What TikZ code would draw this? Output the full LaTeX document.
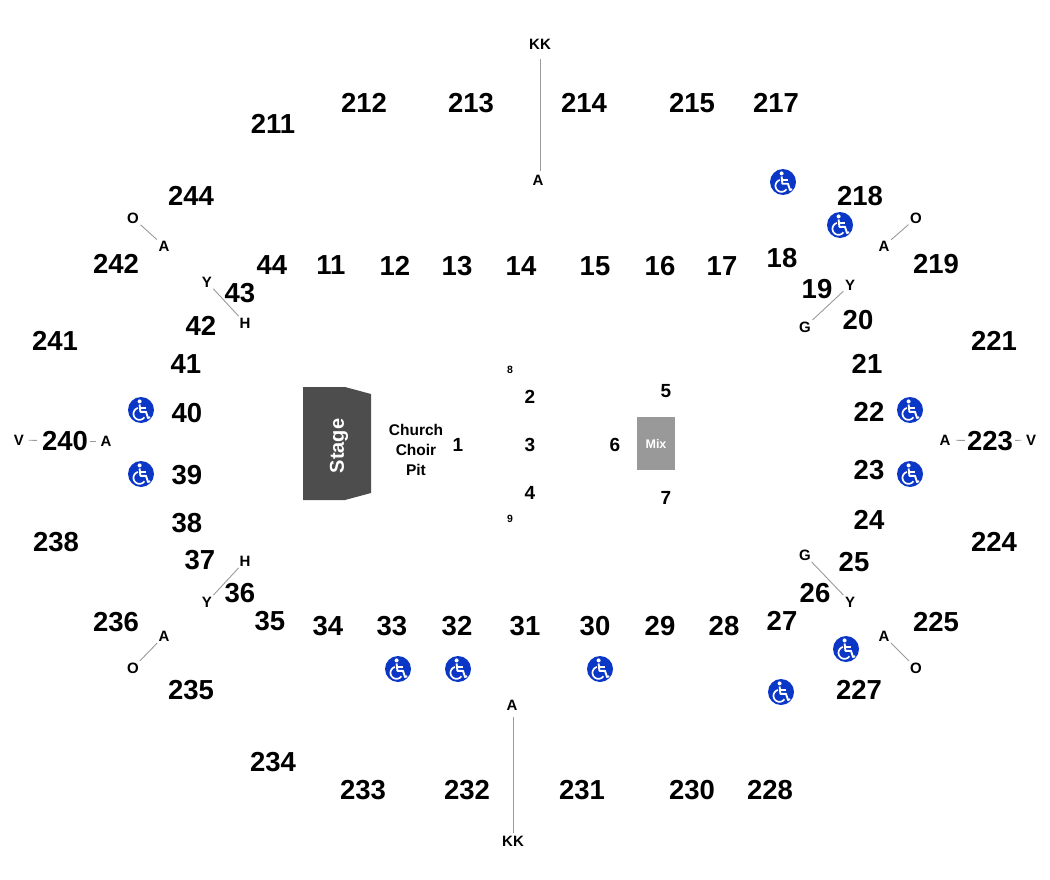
\documentclass[tikz,border=0pt]{standalone}
\usepackage{fontspec}
\setmainfont{Liberation Sans}
\definecolor{wcblue}{HTML}{0B37C6}
\definecolor{stagegray}{HTML}{4D4D4D}
\definecolor{mixgray}{HTML}{999999}
\definecolor{linegray}{HTML}{9A9A9A}
\definecolor{inkblack}{HTML}{000000}
\tikzset{
  x=1pt,y=-1pt,
  sec/.style={font=\fontsize{27.5}{27.5}\bfseries\selectfont,text=inkblack,inner sep=0pt},
  row/.style={font=\fontsize{15}{15}\selectfont\bfseries,text=inkblack,inner sep=1.5pt},
  tiny/.style={font=\fontsize{10.5}{10.5}\selectfont\bfseries,text=inkblack,inner sep=0pt},
  mid/.style={font=\fontsize{19}{19}\bfseries\selectfont,text=inkblack,inner sep=0pt},
  lbl/.style={font=\fontsize{15.5}{20}\selectfont\bfseries,text=inkblack,inner sep=0pt,align=center},
  conn/.style={draw=linegray,line width=0.9pt},
  wc/.pic={
    \fill[wcblue] (0,0) circle (13);
    \fill[white] (-1.4,-8.6) circle (2);
    \draw[white,line width=1.9pt,line join=round] (-1.4,-5.5) -- (-0.6,1.8) -- (5,1.8) -- (7,8) -- (9.2,7.2);
    \draw[white,line width=1.6pt] (-0.9,-2.2) -- (4.6,-2.2);
    \draw[white,line width=1.7pt] plot[domain=35:255,smooth,samples=24] ({-1.5+6*cos(\x)},{3.8+6*sin(\x)});
  }
}
\begin{document}
\begin{tikzpicture}
\useasboundingbox (0,0) rectangle (1050,880);
% stage and mix
\fill[stagegray] (303,387) -- (345,387) -- (371,394) -- (371,493) -- (345,500) -- (303,500) -- cycle;
\node[font=\fontsize{20}{20}\bfseries\selectfont,text=white,rotate=90,inner sep=0pt] (stage) at (339,446) {Stage};
\node[fill=mixgray,minimum width=38pt,minimum height=53pt,inner sep=0pt,text=white,font=\fontsize{12.5}{12.5}\bfseries\selectfont] (mix) at (656,443.5) {Mix};
\node[lbl] (choir) at (416,450) {Church\\Choir\\Pit};
% large section numbers
\foreach \n/\t/\px/\py in {
 s212/212/364/103,s213/213/471/103,s214/214/584/103,s215/215/692/103,s217/217/776/103,
 s211/211/273/124,s244/244/191/196,s218/218/860/196,s242/242/116/264,s219/219/936/264,
 s44/44/272/265,s11/11/331/265,s12/12/395/266,s13/13/457/266,s14/14/521/266,s15/15/595/266,
 s16/16/660/266,s17/17/722/266,s18/18/782/258,s19/19/817/289,s20/20/858/320,s43/43/240/293,
 s42/42/201/326,s241/241/55/341,s41/41/186/364,s21/21/867/364,s221/221/994/341,
 s40/40/187/413,s22/22/869/412,s240/240/65/441,s223/223/990/441,s39/39/187/475,s23/23/869/470,
 s38/38/187/523,s24/24/869/520,s238/238/56/542,s224/224/994/542,s37/37/200/560,s25/25/854/562,
 s36/36/240/593,s26/26/815/593,s35/35/270/621,s236/236/116/622,s34/34/328/626,s33/33/392/626,
 s32/32/457/626,s31/31/525/626,s30/30/595/626,s29/29/660/626,s28/28/724/626,s27/27/782/621,
 s225/225/936/622,s235/235/191/690,s227/227/859/690,s234/234/273/762,s233/233/363/790,
 s232/232/467/790,s231/231/582/790,s230/230/692/790,s228/228/770/790}
 {\node[sec] (\n) at (\px,\py) {\t};}
% middle floor numbers
\foreach \n/\t/\px/\py in {m1/1/458/445,m2/2/530/397,m3/3/530/445,m4/4/530/493,m5/5/666/391,m6/6/615/445,m7/7/666/498}
 {\node[mid] (\n) at (\px,\py) {\t};}
\node[tiny] (m8) at (510,370) {8};
\node[tiny] (m9) at (510,519) {9};
% row labels
\foreach \n/\t/\px/\py in {
 kkT/KK/540/44,aT/A/538/180,oNW/O/133/218,aNW/A/164/246,aNE/A/884/246,oNE/O/916/218,
 yNW/Y/207/282,hNW/H/245/323,yNE/Y/850/285,gNE/G/805/327,
 vW/V/19/440,aW/A/106/441,aE/A/945/440,vE/V/1031/440,
 hSW/H/245/561,ySW/Y/207/602,gSE/G/805/555,ySE/Y/850/602,
 aSW/A/164/636,oSW/O/133/668,aSE/A/884/636,oSE/O/916/668,
 aB/A/512/705,kkB/KK/513/841}
 {\node[row] (\n) at (\px,\py) {\t};}
% connectors
\draw[conn,shorten >=2pt] (kkT.south) ++(0,8) -- (kkT.south |- aT.north);
\draw[conn] (aB.south) ++(1.5,5) -- ([xshift=1.5pt,yshift=1pt]aB.south |- kkB.north);
\draw[conn] (oNW) -- (aNW);
\draw[conn] (aNE) -- (oNE);
\draw[conn] (yNW) -- (hNW);
\draw[conn] (yNE) -- (gNE);
\draw[conn] (hSW) -- (ySW);
\draw[conn] (gSE) -- (ySE);
\draw[conn] (aSW) -- (oSW);
\draw[conn] (aSE) -- (oSE);
\draw[conn,shorten <=3pt,shorten >=5pt] (vW) -- (s240);
\draw[conn,shorten <=2pt,shorten >=3pt] (s240) -- (aW);
\draw[conn,shorten <=4pt,shorten >=2pt] (aE) -- (s223);
\draw[conn,shorten <=2pt,shorten >=3pt] (s223) -- (vE);
% accessible seating
\foreach \px/\py in {783/182,840/225,141/410,141/474,910/410,910/474,398/669,458/669,600/669,846/649,781/692}
 {\pic at (\px,\py) {wc};}
\end{tikzpicture}
\end{document}
